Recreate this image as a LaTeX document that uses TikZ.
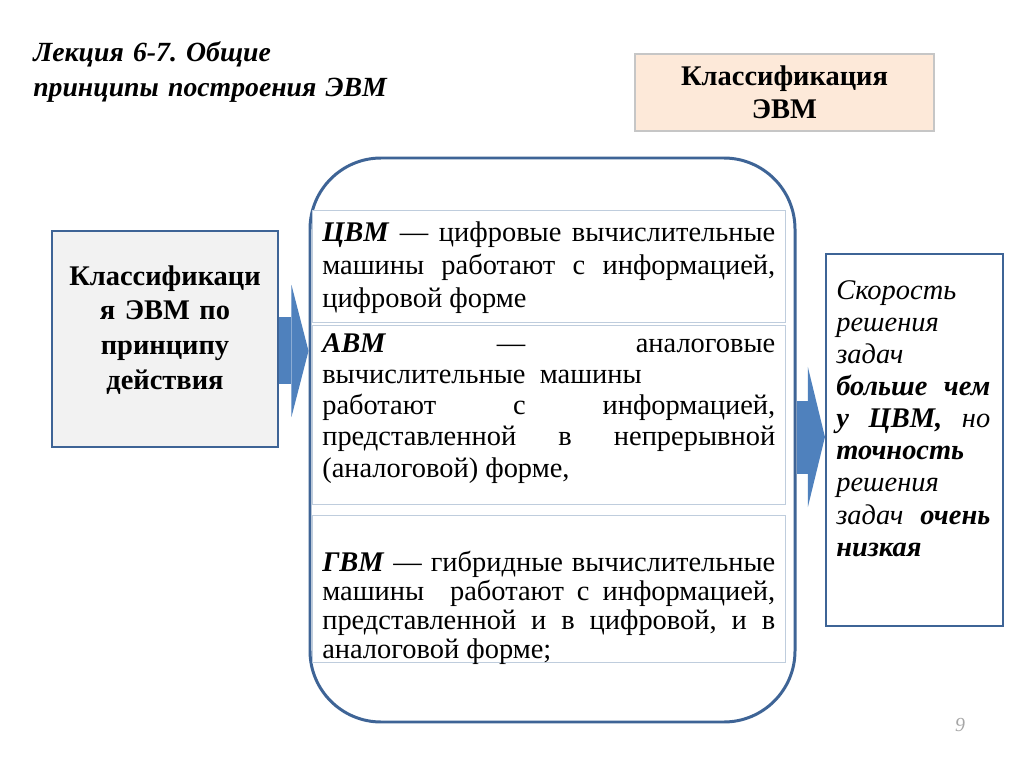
\documentclass[tikz,border=0pt]{standalone}
\usepackage{fontspec}
\setmainfont{Liberation Serif}
\frenchspacing
\usetikzlibrary{arrows.meta, positioning}
\definecolor{frameblue}{HTML}{3E6496}
\definecolor{arrowblue}{HTML}{4F81BD}
\definecolor{cellline}{HTML}{BFCDDD}
\definecolor{peach}{HTML}{FDE9D9}
\definecolor{boxgray}{HTML}{F2F2F2}
\newcommand{\px}{0.703125pt}
\tikzset{
  headbox/.style={
    rectangle, draw=gray!45, fill=peach, line width=0.8pt,
    minimum width=299*\px, minimum height=77*\px, inner sep=0pt,
    align=center, font=\fontsize{20}{23.2}\selectfont\bfseries
  },
  sidebox/.style={rectangle, draw=frameblue, line width=1.5pt, inner sep=0pt},
  groupbox/.style={
    rectangle, rounded corners=50pt, draw=frameblue, line width=2.1pt,
    minimum width=485*\px, minimum height=564*\px, inner sep=0pt
  },
  cell/.style={
    rectangle, draw=cellline, line width=0.7pt, fill=white,
    minimum width=473*\px, inner sep=0pt
  },
  celltext/.style={
    anchor=base west, inner sep=0pt, text width=453*\px,
    align=justify, font=\fontsize{20}{22}\selectfont
  },
  blockarrow/.style={draw=arrowblue, line width=#1*\px},
  tip/.style={-{Triangle[length=12pt 0 0, width=#1 0 0, line width=0pt]}}
}
\begin{document}
\begin{tikzpicture}[x=\px, y=-\px]
  \useasboundingbox[fill=white] (0,0) rectangle (1024,768);

  \node[anchor=base west, inner sep=0pt, text width=450*\px, align=left,
    font=\fontsize{19.5}{24.6}\selectfont\bfseries\itshape] (title) at (33,62)
    {Лекция 6-7. Общие\\принципы построения ЭВМ};

  \node[headbox] (klass) at (784.5,92.5) {Классификация\\ЭВМ};

  % left box
  \node[sidebox, fill=boxgray, minimum width=226*\px, minimum height=216*\px] (cls) at (165,339) {};
  \node[anchor=base, inner sep=0pt, text width=215*\px, align=center,
    font=\fontsize{20}{24.6}\selectfont\bfseries] (clstext) at (165,285)
    {Классификаци\\я ЭВМ по\\принципу\\действия};

  % group of three kinds
  \node[groupbox] (group) at (552.5,440) {};
  \node[cell, minimum height=112*\px] (cvm) at (548.5,266) {};
  \node[cell, minimum height=179*\px] (avm) at (548.5,414.5) {};
  \node[cell, minimum height=147*\px] (gvm) at (548.5,588.5) {};

  \node[celltext, font=\fontsize{20}{23.2}\selectfont] (cvmtext) at (322,242)
    {\textbf{\textit{ЦВМ}} — цифровые вычислительные\linebreak
     машины работают с информацией,\linebreak цифровой форме};
  \node[celltext] (avmtext) at (322,352)
    {\textbf{\textit{АВМ}} — аналоговые\linebreak
     вычислительные\ \ машины\\
     работают с информацией,\linebreak
     представленной в непрерывной\linebreak
     (аналоговой) форме,};
  \node[celltext, font=\fontsize{20}{20.6}\selectfont] (gvmtext) at (322,571)
    {\textbf{\textit{ГВМ}} — гибридные вычислительные\linebreak
     машины\ \ работают с информацией,\linebreak
     представленной и в цифровой, и в\linebreak
     аналоговой форме;};

  % right box
  \node[sidebox, fill=white, minimum width=177*\px, minimum height=372*\px] (speed) at (914.5,440) {};
  \node[celltext, text width=154*\px, font=\fontsize{20}{22.5}\selectfont\itshape] (speedtext) at (836,300)
    {Скорость\\ решения\\ задач\\
     \textbf{больше чем}\linebreak \textbf{у ЦВМ,} но\linebreak
     \textbf{точность}\\ решения\\ задач \textbf{очень}\linebreak \textbf{низкая}};

  % block arrows
  \coordinate (clsout) at ([yshift=-8.4pt]cls.east);
  \coordinate (groupout) at ([yshift=2.1pt]group.east);
  \draw[blockarrow=67, tip=93pt] (clsout) -- (clsout -| group.west);
  \draw[blockarrow=73, tip=98.5pt] (groupout) -- (groupout -| speed.west);

  \node[anchor=base, inner sep=0pt, text=gray!70, font=\fontsize{14}{16}\selectfont\itshape] (page) at (960,731) {9};
\end{tikzpicture}
\end{document}
